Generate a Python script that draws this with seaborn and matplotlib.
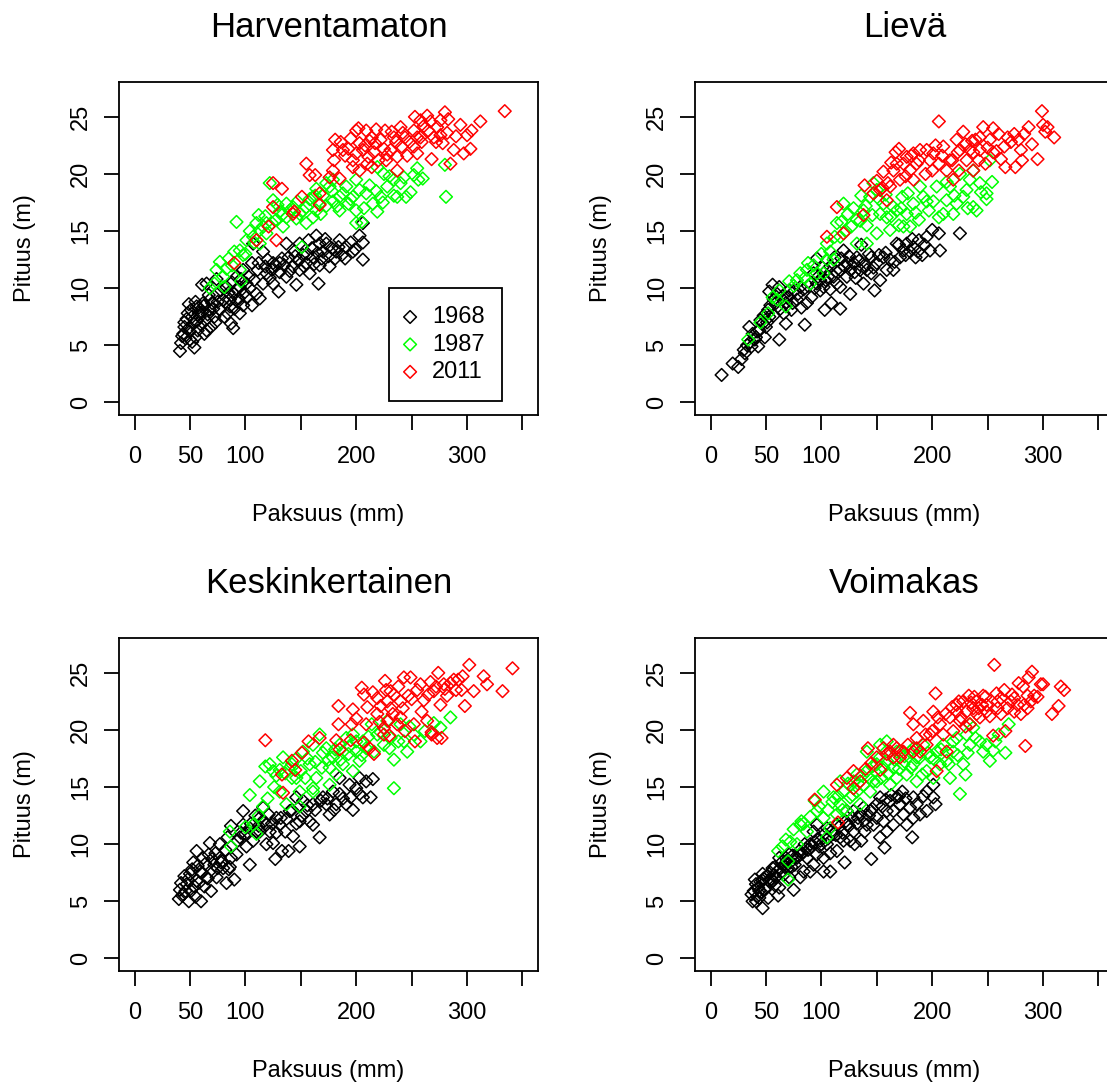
import matplotlib
matplotlib.use("Agg")
import matplotlib.pyplot as plt
import pandas as pd
import seaborn as sns

# ---------------------------------------------------------------------------
# Tree diameter (Paksuus, mm) vs height (Pituus, m) by thinning treatment
# ---------------------------------------------------------------------------
YEARS = ["1968", "1987", "2011"]
YEAR_COLORS = {"1968": "#000000", "1987": "#00FF00", "2011": "#FF0000"}
PANEL_TITLES = ["Harventamaton", "Lievä", "Keskinkertainen", "Voimakas"]
X_TICKS = [0, 50, 100, 150, 200, 250, 300, 350]
X_TICK_LABELS = ["0", "50", "100", "", "200", "", "300", ""]
Y_TICKS = [0, 5, 10, 15, 20, 25]
Y_TICK_LABELS = ["0", "5", "10", "15", "20", "25"]

# --- Harventamaton ---------------------------------------------------------
HARV_1968 = [
    (41, 4.5), (54, 4.8), (46, 5.6), (44, 6.0), (49, 6.5), (53, 6.9), (47, 7.3),
    (59, 7.5), (51, 8.1), (56, 8.4), (62, 8.7), (68, 9.0), (45, 6.6), (57, 6.3),
    (65, 6.3), (72, 7.5), (77, 8.1), (70, 8.7), (61, 10.3), (74, 10.8), (81, 7.5),
    (89, 6.5), (87, 6.9), (95, 7.8), (86, 9.0), (90, 9.5), (95, 10.1), (101, 10.4),
    (92, 11.0), (98, 8.5), (106, 8.5), (110, 9.5), (113, 9.1), (116, 10.4),
    (119, 11.3), (125, 10.4), (130, 9.7), (131, 11.4), (137, 11.0), (139, 12.7),
    (143, 11.9), (149, 11.6), (146, 10.3), (155, 12.2), (161, 12.7), (167, 13.9),
    (164, 14.6), (170, 13.2), (176, 11.9), (181, 12.6), (185, 14.2), (191, 13.6),
    (197, 13.2), (206, 15.7), (206, 14.0), (206, 12.5), (166, 10.4), (107, 13.9),
    (116, 13.2), (125, 12.2), (137, 13.9), (106, 12.2), (111, 11.6), (83, 10.1),
    (74, 9.5), (65, 10.4), (98, 11.6), (149, 13.9), (158, 11.3), (182, 13.2),
    (173, 13.9), (152, 12.9), (131, 12.2), (124, 11.6), (86, 8.4), (80, 9.0),
    (101, 9.2), (55, 5.7), (50, 5.5), (43, 5.8), (68, 8.1), (64, 7.2), (73, 7.0),
    (55, 8.8), (49, 8.6), (58, 7.8), (63, 6.0), (52, 7.5), (84, 7.8), (93, 8.8),
    (104, 10.0), (120, 12.5), (135, 12.0), (145, 12.8), (160, 13.5), (175, 12.8),
    (195, 14.0), (187, 12.9), (167, 12.0), (157, 14.2),
    (42, 5.2), (45, 7.0), (48, 7.8), (50, 6.2), (52, 5.3), (56, 7.1), (58, 8.3),
    (60, 6.8), (61, 7.9), (63, 8.5), (66, 7.7), (67, 9.4), (69, 6.6), (71, 8.2),
    (75, 8.8), (78, 9.8), (82, 8.8), (85, 9.6), (88, 10.5), (90, 8.2), (92, 9.9),
    (94, 9.1), (96, 10.8), (99, 9.6), (103, 11.0), (108, 10.7), (112, 12.2),
    (118, 11.9), (122, 10.9), (127, 12.0), (133, 12.6), (140, 11.5), (144, 13.2),
    (148, 12.4), (153, 11.9), (156, 13.0), (162, 12.1), (165, 13.1), (169, 12.6),
    (172, 14.3), (178, 13.5), (184, 13.6), (190, 12.6), (199, 13.4), (203, 14.6),
]
HARV_1987 = [
    (68, 10.0), (72, 10.4), (81, 10.1), (96, 10.6), (77, 12.3), (83, 11.7),
    (90, 13.2), (95, 13.3), (98, 12.9), (92, 15.8), (110, 15.7), (116, 15.4),
    (122, 19.2), (125, 17.7), (131, 16.7), (137, 16.2), (146, 16.1), (155, 17.1),
    (161, 18.0), (164, 18.7), (170, 18.1), (176, 18.9), (179, 17.6), (185, 16.8),
    (193, 17.4), (197, 18.0), (200, 16.8), (205, 15.8), (209, 18.3), (215, 17.4),
    (219, 16.7), (222, 18.0), (228, 18.9), (234, 19.5), (234, 18.1), (237, 18.0),
    (243, 19.7), (249, 18.4), (255, 20.5), (256, 19.5), (280, 20.8), (281, 18.0),
    (225, 20.0), (219, 20.6), (200, 19.5), (191, 18.9), (179, 19.5), (173, 19.2),
    (164, 16.8), (155, 15.7), (149, 16.5), (143, 17.1), (134, 15.4), (119, 15.7),
    (113, 15.1), (107, 14.5), (101, 14.2), (113, 13.9), (119, 14.8), (95, 11.6),
    (80, 11.0), (74, 11.6), (151, 13.6), (200, 15.7), (185, 18.0), (167, 17.4),
    (161, 16.2), (137, 17.4), (128, 16.0), (240, 19.2),
    (85, 12.6), (88, 12.0), (100, 13.0), (104, 15.0), (108, 14.0), (112, 16.4),
    (118, 16.3), (124, 15.7), (129, 17.3), (133, 16.4), (140, 16.8), (147, 17.6),
    (152, 16.8), (158, 17.8), (163, 18.1), (168, 16.5), (173, 17.2), (178, 18.5),
    (183, 17.2), (188, 18.3), (195, 17.8), (203, 18.6), (207, 17.0), (212, 19.0),
    (218, 18.5), (224, 17.5), (230, 19.8), (245, 18.0), (252, 19.9), (260, 19.6),
]
HARV_2011 = [
    (90, 12.2), (110, 14.2), (125, 17.1), (125, 19.2), (133, 18.7), (128, 14.2),
    (121, 15.4), (143, 16.5), (144, 16.7), (151, 18.0), (155, 20.9), (158, 19.9),
    (163, 19.9), (167, 17.3), (167, 18.3), (176, 19.7), (179, 20.3), (181, 23.0),
    (179, 22.1), (185, 19.6), (188, 22.1), (193, 22.2), (197, 20.6), (200, 23.8),
    (203, 22.7), (206, 22.1), (209, 23.8), (211, 21.5), (214, 23.2), (216, 21.9),
    (220, 21.2), (225, 22.2), (226, 23.8), (231, 22.1), (234, 23.2), (237, 21.5),
    (240, 24.1), (241, 22.4), (244, 23.2), (246, 21.6), (252, 23.8), (253, 25.0),
    (258, 24.7), (259, 22.8), (264, 25.1), (265, 23.8), (268, 21.3), (270, 23.2),
    (273, 24.1), (276, 24.7), (278, 22.7), (280, 25.4), (283, 24.8), (285, 20.9),
    (288, 22.1), (294, 24.3), (297, 21.8), (300, 23.4), (303, 22.2), (304, 23.8),
    (312, 24.6), (334, 25.5), (197, 21.2), (203, 20.3), (214, 20.6), (200, 21.8),
    (237, 20.3), (217, 22.7), (252, 22.4), (258, 23.2), (276, 23.4),
    (180, 21.2), (186, 22.8), (190, 21.6), (195, 23.1), (202, 24.0), (208, 22.5),
    (212, 22.9), (218, 23.9), (222, 23.0), (228, 21.7), (232, 23.7), (236, 22.8),
    (242, 23.6), (248, 22.8), (255, 23.2), (261, 24.2), (267, 24.6), (272, 22.8),
    (282, 23.6), (290, 23.3), (255, 21.8), (227, 21.2), (210, 20.9),
]

# --- Lievä -----------------------------------------------------------------
LIEVA_1968 = [
    (10, 2.4), (20, 3.4), (25, 3.1), (31, 4.3), (35, 6.6), (37, 4.9), (41, 5.7),
    (47, 6.9), (44, 6.3), (52, 8.1), (53, 9.7), (56, 10.3), (62, 5.5), (59, 8.7),
    (65, 9.0), (68, 6.9), (73, 8.1), (78, 9.0), (85, 6.8), (87, 8.7), (81, 10.1),
    (91, 9.2), (96, 12.6), (96, 10.4), (102, 10.1), (103, 8.1), (106, 11.0),
    (109, 8.7), (112, 12.7), (117, 8.2), (117, 11.6), (120, 13.3), (123, 11.0),
    (126, 9.5), (129, 12.2), (132, 12.7), (136, 13.8), (138, 10.4), (141, 11.6),
    (145, 12.7), (148, 9.8), (150, 12.2), (153, 10.7), (156, 12.7), (159, 11.6),
    (165, 11.6), (168, 13.9), (171, 12.7), (177, 13.9), (180, 13.2), (183, 13.6),
    (188, 14.2), (191, 12.9), (195, 14.5), (200, 15.1), (206, 14.8), (207, 13.3),
    (225, 14.8), (114, 10.4), (105, 11.6), (93, 11.3), (71, 9.8), (62, 10.1),
    (53, 7.5), (49, 5.7), (43, 4.9), (40, 5.5), (50, 6.6), (68, 8.7), (76, 9.8),
    (99, 9.8), (111, 11.0), (123, 12.2), (135, 11.6), (145, 11.3), (162, 12.5),
    (174, 13.3), (185, 12.7), (126, 11.6), (117, 10.1), (99, 10.7), (28, 3.8),
    (33, 5.0), (57, 7.6), (66, 7.8), (82, 8.3), (108, 9.9), (131, 10.9),
    (30, 4.6), (36, 5.3), (38, 6.0), (42, 6.2), (45, 7.2), (48, 7.6), (51, 7.0),
    (54, 8.5), (57, 9.0), (60, 9.5), (63, 8.2), (66, 9.4), (70, 9.2), (74, 8.7),
    (79, 9.5), (84, 9.9), (88, 10.2), (94, 10.0), (97, 11.0), (101, 11.8),
    (104, 10.7), (108, 11.9), (113, 11.5), (118, 12.6), (121, 11.9), (125, 12.8),
    (130, 11.4), (134, 12.4), (139, 12.0), (143, 13.0), (147, 11.8), (152, 12.9),
    (158, 13.1), (166, 12.3), (170, 13.8), (176, 12.9), (182, 14.3), (187, 13.2),
    (193, 13.8), (198, 13.3),
]
LIEVA_1987 = [
    (34, 5.5), (52, 7.8), (56, 9.2), (68, 8.4), (62, 9.8), (71, 10.6), (81, 11.3),
    (88, 12.2), (90, 10.4), (96, 11.3), (102, 11.3), (105, 12.5), (111, 12.5),
    (105, 13.9), (114, 15.7), (120, 17.4), (124, 16.5), (127, 15.4), (132, 16.0),
    (138, 16.8), (141, 15.5), (144, 18.0), (147, 19.2), (150, 14.8), (153, 16.5),
    (156, 17.4), (159, 16.2), (165, 17.1), (170, 15.5), (173, 18.0), (177, 16.5),
    (180, 15.4), (183, 17.4), (188, 16.0), (189, 18.9), (192, 18.0), (197, 16.8),
    (201, 17.6), (204, 18.9), (206, 16.2), (213, 17.7), (216, 18.9), (219, 16.5),
    (222, 17.4), (225, 20.0), (228, 18.0), (231, 18.6), (234, 19.5), (237, 17.1),
    (237, 20.3), (240, 16.8), (243, 19.2), (249, 18.3), (252, 21.2), (254, 19.3),
    (249, 17.8), (213, 19.3), (132, 13.9), (117, 14.5), (141, 13.9), (162, 15.1),
    (174, 15.4), (87, 11.6), (78, 10.7), (150, 18.6), (136, 18.1),
    (45, 7.0), (60, 9.0), (75, 10.2), (85, 10.9), (93, 12.0), (100, 13.0),
    (108, 13.2), (112, 14.5), (118, 15.8), (122, 15.0), (129, 17.0), (135, 15.9),
    (140, 17.2), (146, 16.4), (152, 17.8), (158, 18.2), (163, 16.3), (168, 16.8),
    (172, 17.0), (178, 18.3), (185, 16.6), (195, 17.6), (210, 16.5), (220, 18.1),
    (232, 17.0), (244, 18.4),
]
LIEVA_2011 = [
    (105, 14.5), (114, 17.1), (120, 14.8), (138, 16.4), (139, 19.0), (147, 18.3),
    (153, 18.6), (156, 20.2), (159, 17.7), (160, 19.2), (165, 20.3), (167, 21.9),
    (171, 19.5), (174, 20.9), (177, 21.5), (180, 20.3), (183, 19.5), (186, 20.9),
    (189, 22.1), (194, 20.0), (195, 22.1), (201, 21.8), (206, 20.9), (206, 24.6),
    (210, 22.4), (213, 20.3), (216, 21.2), (219, 19.5), (222, 23.0), (224, 20.3),
    (228, 23.7), (231, 21.2), (234, 22.1), (237, 20.3), (239, 23.0), (243, 22.1),
    (246, 24.1), (248, 20.9), (252, 23.0), (255, 21.9), (262, 21.3), (265, 22.4),
    (266, 20.6), (271, 22.8), (274, 23.5), (275, 20.6), (280, 22.1), (281, 21.2),
    (283, 23.5), (287, 24.1), (295, 21.3), (299, 25.5), (304, 24.1), (302, 23.7),
    (310, 23.2), (168, 20.9), (183, 21.8), (200, 20.3), (225, 22.1), (243, 23.2),
    (237, 21.9),
    (150, 19.4), (155, 18.8), (162, 18.9), (163, 21.0), (170, 22.2), (176, 19.8),
    (181, 21.6), (188, 21.2), (198, 21.2), (203, 22.5), (209, 21.6), (218, 21.2),
    (223, 21.9), (230, 22.6), (236, 22.9), (242, 21.2), (250, 22.3), (258, 22.0),
    (268, 23.2), (278, 23.0), (290, 22.6), (300, 24.3), (255, 24.0), (260, 23.5),
]

# --- Keskinkertainen ------------------------------------------------------
KESK_1968 = [
    (40, 5.2), (49, 5.0), (60, 5.0), (42, 6.6), (46, 5.9), (51, 5.9), (56, 6.8),
    (50, 7.4), (53, 8.4), (59, 7.6), (65, 7.1), (69, 5.9), (67, 9.1), (68, 10.1),
    (72, 8.2), (77, 10.0), (80, 7.9), (83, 6.6), (87, 8.8), (90, 6.9), (92, 9.1),
    (87, 11.6), (95, 10.6), (98, 11.7), (104, 8.2), (101, 9.8), (107, 10.3),
    (110, 11.1), (113, 12.3), (116, 13.2), (119, 11.7), (122, 11.1), (125, 10.1),
    (127, 8.7), (128, 12.3), (133, 9.4), (136, 11.1), (139, 9.4), (140, 12.9),
    (143, 10.7), (149, 9.8), (149, 12.0), (155, 12.9), (158, 12.0), (161, 13.5),
    (167, 10.6), (170, 14.1), (176, 12.6), (179, 14.6), (182, 13.5), (185, 14.4),
    (191, 13.5), (194, 15.2), (197, 13.0), (203, 14.4), (206, 14.1), (203, 15.8),
    (209, 15.5), (215, 15.7), (213, 14.1), (84, 10.6), (77, 8.8), (62, 8.8),
    (56, 9.4), (74, 7.1), (47, 6.5), (98, 12.9), (104, 11.4), (113, 11.1),
    (146, 14.1), (161, 11.7), (173, 13.5), (185, 15.8), (131, 11.7), (119, 10.0),
    (152, 13.8), (44, 5.6), (55, 5.4), (63, 6.3), (71, 7.6), (78, 8.4), (85, 7.8),
    (41, 6.0), (43, 5.5), (45, 7.2), (48, 6.9), (52, 7.8), (54, 6.3), (57, 8.1),
    (58, 6.6), (61, 7.5), (64, 8.3), (66, 7.0), (70, 8.7), (73, 9.2), (75, 7.9),
    (79, 8.5), (82, 9.5), (86, 8.0), (93, 10.3), (96, 11.0), (100, 10.9),
    (105, 11.8), (109, 12.5), (112, 11.6), (117, 12.0), (121, 12.6), (124, 11.8),
    (128, 11.0), (132, 12.3), (137, 12.2), (142, 13.0), (146, 11.8), (151, 12.5),
    (156, 13.4), (163, 13.0), (168, 13.8), (174, 14.0), (180, 13.0), (188, 14.0),
    (195, 14.1), (200, 14.9),
]
KESK_1987 = [
    (86, 11.1), (87, 9.8), (104, 14.3), (107, 11.7), (110, 10.9), (116, 13.3),
    (118, 16.8), (122, 17.0), (125, 16.4), (128, 16.0), (134, 17.6), (136, 16.2),
    (137, 13.5), (142, 17.0), (146, 15.8), (149, 13.3), (152, 18.1), (154, 15.8),
    (158, 17.0), (161, 18.7), (164, 15.8), (167, 19.6), (169, 16.7), (173, 18.4),
    (176, 15.2), (179, 17.6), (182, 16.1), (185, 18.7), (188, 17.0), (191, 19.3),
    (193, 17.9), (197, 19.6), (197, 16.4), (200, 18.1), (203, 17.3), (206, 19.0),
    (209, 18.4), (214, 20.5), (216, 18.1), (219, 19.6), (225, 18.7), (228, 20.8),
    (231, 19.3), (234, 14.9), (234, 17.4), (240, 20.5), (243, 19.0), (246, 18.1),
    (252, 19.6), (258, 19.0), (270, 20.6), (276, 20.2), (285, 21.1), (142, 15.8),
    (131, 14.6), (149, 14.6), (161, 14.9), (176, 16.7), (188, 18.1), (113, 15.5),
    (161, 14.6),
    (100, 11.5), (112, 12.5), (120, 14.0), (126, 15.0), (131, 16.5), (139, 16.6),
    (145, 17.4), (150, 16.4), (156, 17.5), (163, 17.2), (170, 18.0), (175, 17.4),
    (181, 18.3), (186, 17.4), (194, 18.6), (200, 19.0), (205, 17.8), (211, 19.4),
    (222, 19.8), (230, 18.4), (238, 19.0), (248, 20.3), (262, 19.9),
]
KESK_2011 = [
    (118, 19.1), (133, 16.1), (134, 14.5), (142, 17.3), (145, 16.5), (151, 18.0),
    (157, 19.0), (167, 19.3), (182, 19.1), (184, 20.5), (184, 22.1), (185, 18.3),
    (196, 20.5), (197, 21.8), (205, 23.7), (207, 23.1), (207, 18.9), (209, 20.5),
    (212, 18.4), (216, 17.9), (219, 21.4), (222, 22.1), (225, 19.6), (226, 24.3),
    (228, 22.5), (229, 20.8), (231, 21.9), (234, 23.1), (237, 20.5), (240, 22.5),
    (243, 24.6), (244, 19.9), (249, 24.6), (250, 22.7), (252, 20.5), (253, 19.0),
    (258, 24.0), (259, 21.6), (264, 20.8), (265, 23.1), (268, 19.6), (270, 23.4),
    (273, 19.3), (274, 25.0), (276, 22.2), (279, 24.0), (282, 23.0), (285, 24.1),
    (288, 24.4), (292, 24.4), (295, 23.5), (298, 22.1), (302, 25.7), (306, 23.4),
    (315, 24.7), (318, 24.0), (332, 23.4), (341, 25.4), (219, 22.8), (231, 23.4),
    (240, 21.1), (277, 19.3), (268, 19.8), (225, 20.2),
    (195, 19.1), (200, 21.0), (210, 22.0), (215, 23.3), (221, 20.7), (227, 23.5),
    (233, 21.4), (238, 23.8), (242, 21.9), (247, 23.0), (255, 23.5), (261, 22.6),
    (267, 24.2), (272, 23.8), (280, 23.6), (290, 23.5), (296, 24.7), (230, 19.5),
]

# --- Voimakas --------------------------------------------------------------
VOIM_1968 = [
    (38, 5.0), (47, 4.4), (37, 5.6), (44, 5.9), (41, 6.5), (50, 6.2), (53, 6.8),
    (47, 7.4), (59, 7.1), (61, 5.5), (56, 7.9), (65, 7.6), (68, 8.8), (75, 6.0),
    (76, 8.2), (81, 9.1), (84, 7.6), (87, 8.8), (90, 10.0), (93, 8.2), (96, 9.1),
    (99, 10.3), (102, 8.8), (105, 10.0), (108, 7.6), (111, 10.9), (114, 9.4),
    (117, 10.6), (121, 8.4), (123, 11.7), (126, 10.3), (129, 11.1), (133, 12.3),
    (136, 10.3), (141, 11.7), (144, 12.9), (145, 8.7), (150, 12.3), (153, 10.6),
    (157, 9.7), (159, 12.9), (162, 13.8), (165, 11.7), (168, 14.1), (173, 14.6),
    (174, 12.6), (180, 13.2), (182, 10.6), (183, 14.1), (189, 12.6), (195, 14.6),
    (201, 14.1), (203, 13.5), (201, 15.2), (41, 5.0), (52, 5.3), (62, 6.2),
    (71, 7.1), (78, 8.8), (71, 9.1), (62, 8.8), (96, 11.7), (105, 11.4),
    (114, 11.7), (123, 12.9), (129, 12.9), (138, 13.2), (147, 11.7), (156, 12.0),
    (165, 12.9), (171, 13.5), (183, 12.3), (153, 14.1), (108, 9.2), (81, 7.1),
    (93, 11.1), (56, 6.8), (47, 6.8), (55, 6.9), (70, 7.9), (90, 7.6), (102, 7.6),
    (130, 10.0), (120, 10.3), (139, 11.1), (159, 11.1), (177, 11.7), (195, 12.9),
    (44, 5.3), (58, 6.4), (66, 7.3), (73, 8.0), (86, 9.6), (98, 9.8),
    (39, 5.9), (40, 6.9), (42, 5.4), (43, 6.2), (45, 6.7), (46, 5.8), (48, 7.0),
    (49, 6.0), (51, 7.2), (54, 7.5), (57, 7.3), (58, 8.0), (60, 7.6), (63, 7.9),
    (64, 8.4), (67, 8.0), (69, 8.6), (72, 8.4), (74, 9.0), (77, 8.9), (80, 9.4),
    (83, 9.2), (85, 10.0), (88, 9.5), (91, 9.8), (94, 10.2), (97, 10.5),
    (100, 10.0), (103, 10.9), (106, 10.5), (110, 11.2), (113, 10.8), (116, 11.5),
    (119, 11.0), (122, 12.0), (125, 11.6), (128, 12.3), (132, 11.8), (135, 12.6),
    (139, 12.1), (143, 12.5), (146, 13.1), (150, 13.5), (155, 13.3), (158, 13.9),
    (163, 14.3), (170, 14.2), (176, 14.0), (186, 13.5), (192, 14.2),
]
VOIM_1987 = [
    (61, 9.4), (70, 6.9), (70, 8.5), (68, 10.4), (78, 10.0), (81, 11.7), (82, 12.0),
    (87, 11.1), (94, 13.8), (96, 12.9), (102, 12.3), (105, 10.6), (108, 11.4),
    (111, 14.1), (114, 12.6), (117, 13.5), (120, 14.6), (123, 12.9), (126, 14.1),
    (129, 15.5), (132, 14.6), (135, 13.5), (138, 15.2), (141, 16.4), (144, 14.6),
    (147, 15.5), (150, 17.0), (153, 18.7), (154, 15.8), (159, 17.3), (162, 15.2),
    (165, 16.7), (168, 15.8), (171, 18.1), (174, 17.0), (177, 16.1), (180, 18.1),
    (183, 17.0), (186, 15.5), (189, 17.6), (192, 18.7), (195, 16.4), (198, 17.6),
    (201, 15.8), (204, 18.1), (207, 17.0), (210, 18.7), (213, 17.3), (216, 15.8),
    (219, 18.1), (222, 19.3), (225, 14.4), (228, 17.0), (230, 16.1), (231, 19.6),
    (234, 18.7), (237, 20.2), (239, 19.3), (246, 18.1), (249, 18.7), (252, 17.3),
    (257, 19.0), (266, 18.0), (269, 20.5), (102, 14.6), (117, 15.5), (132, 16.1),
    (153, 17.6), (168, 18.1), (183, 18.4), (141, 18.1), (159, 19.0), (219, 19.0),
    (234, 20.5),
    (65, 9.8), (72, 10.2), (75, 11.3), (84, 11.8), (90, 12.4), (98, 13.3),
    (106, 13.0), (110, 13.7), (115, 14.2), (119, 13.0), (124, 15.3), (128, 14.3),
    (133, 15.3), (137, 16.0), (143, 15.8), (146, 16.8), (150, 15.5), (156, 16.7),
    (160, 16.2), (166, 17.4), (170, 16.6), (175, 17.7), (181, 16.7), (186, 17.6),
    (191, 16.1), (196, 18.0), (202, 17.4), (208, 18.3), (215, 17.0), (223, 17.8),
    (232, 18.0), (243, 19.0), (255, 18.2), (260, 19.6),
]
VOIM_2011 = [
    (94, 13.9), (115, 11.9), (114, 15.2), (123, 15.8), (129, 16.4), (129, 14.9),
    (135, 15.5), (142, 18.4), (145, 17.1), (153, 16.5), (156, 18.4), (159, 17.9),
    (165, 18.7), (171, 17.6), (174, 18.1), (180, 21.5), (183, 20.5), (186, 19.3),
    (189, 18.1), (192, 20.8), (195, 18.7), (198, 19.6), (201, 21.6), (203, 23.2),
    (204, 16.4), (207, 20.5), (210, 19.6), (213, 18.1), (216, 21.1), (219, 19.9),
    (222, 22.2), (225, 20.8), (228, 22.5), (231, 21.6), (233, 23.0), (234, 20.5),
    (237, 21.9), (240, 22.5), (243, 21.1), (246, 23.0), (249, 21.6), (255, 19.5),
    (256, 25.7), (259, 22.5), (262, 21.4), (265, 23.5), (266, 19.9), (271, 22.5),
    (274, 21.6), (278, 24.1), (280, 21.4), (283, 22.2), (284, 18.6), (287, 24.6),
    (289, 22.5), (290, 25.1), (292, 23.0), (298, 24.0), (308, 21.4), (314, 22.1),
    (316, 23.8), (319, 23.5), (249, 22.2), (222, 21.6), (259, 21.9), (274, 22.8),
    (286, 23.0), (240, 21.4), (183, 18.1), (165, 17.6),
    (140, 16.6), (150, 17.6), (162, 18.1), (168, 18.4), (178, 18.7), (186, 18.4),
    (194, 19.6), (200, 19.9), (205, 21.1), (212, 21.4), (218, 22.0), (224, 22.5),
    (226, 21.1), (230, 20.3), (235, 22.4), (238, 22.9), (242, 21.9), (245, 22.2),
    (248, 22.9), (252, 21.2), (258, 23.2), (262, 22.8), (268, 21.9), (272, 23.1),
    (277, 22.2), (282, 23.8), (286, 21.9), (295, 22.9), (300, 24.0),
]

SERIES = {
    "Harventamaton": {"1968": HARV_1968, "1987": HARV_1987, "2011": HARV_2011},
    "Lievä": {"1968": LIEVA_1968, "1987": LIEVA_1987, "2011": LIEVA_2011},
    "Keskinkertainen": {"1968": KESK_1968, "1987": KESK_1987, "2011": KESK_2011},
    "Voimakas": {"1968": VOIM_1968, "1987": VOIM_1987, "2011": VOIM_2011},
}

rows = []
for panel, by_year in SERIES.items():
    for year, pts in by_year.items():
        for d, h in pts:
            rows.append({"panel": panel, "year": year, "paksuus": d, "pituus": h})
df = pd.DataFrame(rows)

# ---------------------------------------------------------------------------
sns.set_style("ticks")
plt.rcParams["font.family"] = ["Liberation Sans", "DejaVu Sans"]
plt.rcParams["text.color"] = "black"
plt.rcParams["axes.labelcolor"] = "black"
plt.rcParams["xtick.color"] = "black"
plt.rcParams["ytick.color"] = "black"

W, H = 1107, 1088
fig = plt.figure(figsize=(W / 100, H / 100), dpi=100)

# plot-box corners (left, top) in pixels; all boxes share one size
BOX_W, BOX_H = 419, 333
BOXES = {
    "Harventamaton": (119, 81.7),
    "Lievä": (695, 81.7),
    "Keskinkertainen": (119, 637.7),
    "Voimakas": (695, 637.7),
}

LABEL_SIZE = 17
TITLE_SIZE = 25
LW = 1.3
MARKER_AREA = 42

for panel in PANEL_TITLES:
    left, top = BOXES[panel]
    ax = fig.add_axes([left / W, 1 - (top + BOX_H) / H, BOX_W / W, BOX_H / H])
    sub = df[df["panel"] == panel]
    for year in YEARS:
        pts = sub[sub["year"] == year]
        col = YEAR_COLORS[year]
        sns.scatterplot(data=pts, x="paksuus", y="pituus", ax=ax, marker="D",
                        s=MARKER_AREA, color=col, facecolor="none",
                        edgecolor=col, linewidth=1.1, label=year,
                        legend=False, zorder=3)

    ax.set_xlim(-14, 364)
    ax.set_ylim(-1.08, 28.08)
    ax.set_xticks(X_TICKS)
    ax.set_xticklabels(X_TICK_LABELS)
    ax.set_yticks(Y_TICKS)
    ax.set_yticklabels(Y_TICK_LABELS, rotation=90, va="center")
    ax.tick_params(axis="both", direction="out", length=10.5, width=LW,
                   labelsize=LABEL_SIZE, color="black", labelcolor="black")
    ax.tick_params(axis="x", pad=12)
    ax.tick_params(axis="y", pad=9)
    for sp in ax.spines.values():
        sp.set_visible(True)
        sp.set_linewidth(LW)
        sp.set_color("black")
    ax.grid(False)

    ax.set_xlabel("Paksuus (mm)", fontsize=LABEL_SIZE, va="center",
                  color="black")
    ax.xaxis.set_label_coords(0.5, -0.302)
    ax.set_ylabel("Pituus (m)", fontsize=LABEL_SIZE, va="center",
                  color="black")
    ax.yaxis.set_label_coords(-0.224, 0.5)
    ax.set_title(panel, fontsize=TITLE_SIZE, pad=32.5, color="black")

    if panel == "Harventamaton":
        leg = ax.legend(loc="upper left", bbox_to_anchor=(0.644, 0.379),
                        borderaxespad=0, fontsize=LABEL_SIZE, frameon=True,
                        fancybox=False, edgecolor="black", framealpha=1,
                        borderpad=0.75, handlelength=0.3, handletextpad=0.78,
                        labelspacing=0.23, scatterpoints=1)
        leg.get_frame().set_linewidth(LW)
        for t in leg.get_texts():
            t.set_color("black")

fig.savefig("out.png", dpi=100)
